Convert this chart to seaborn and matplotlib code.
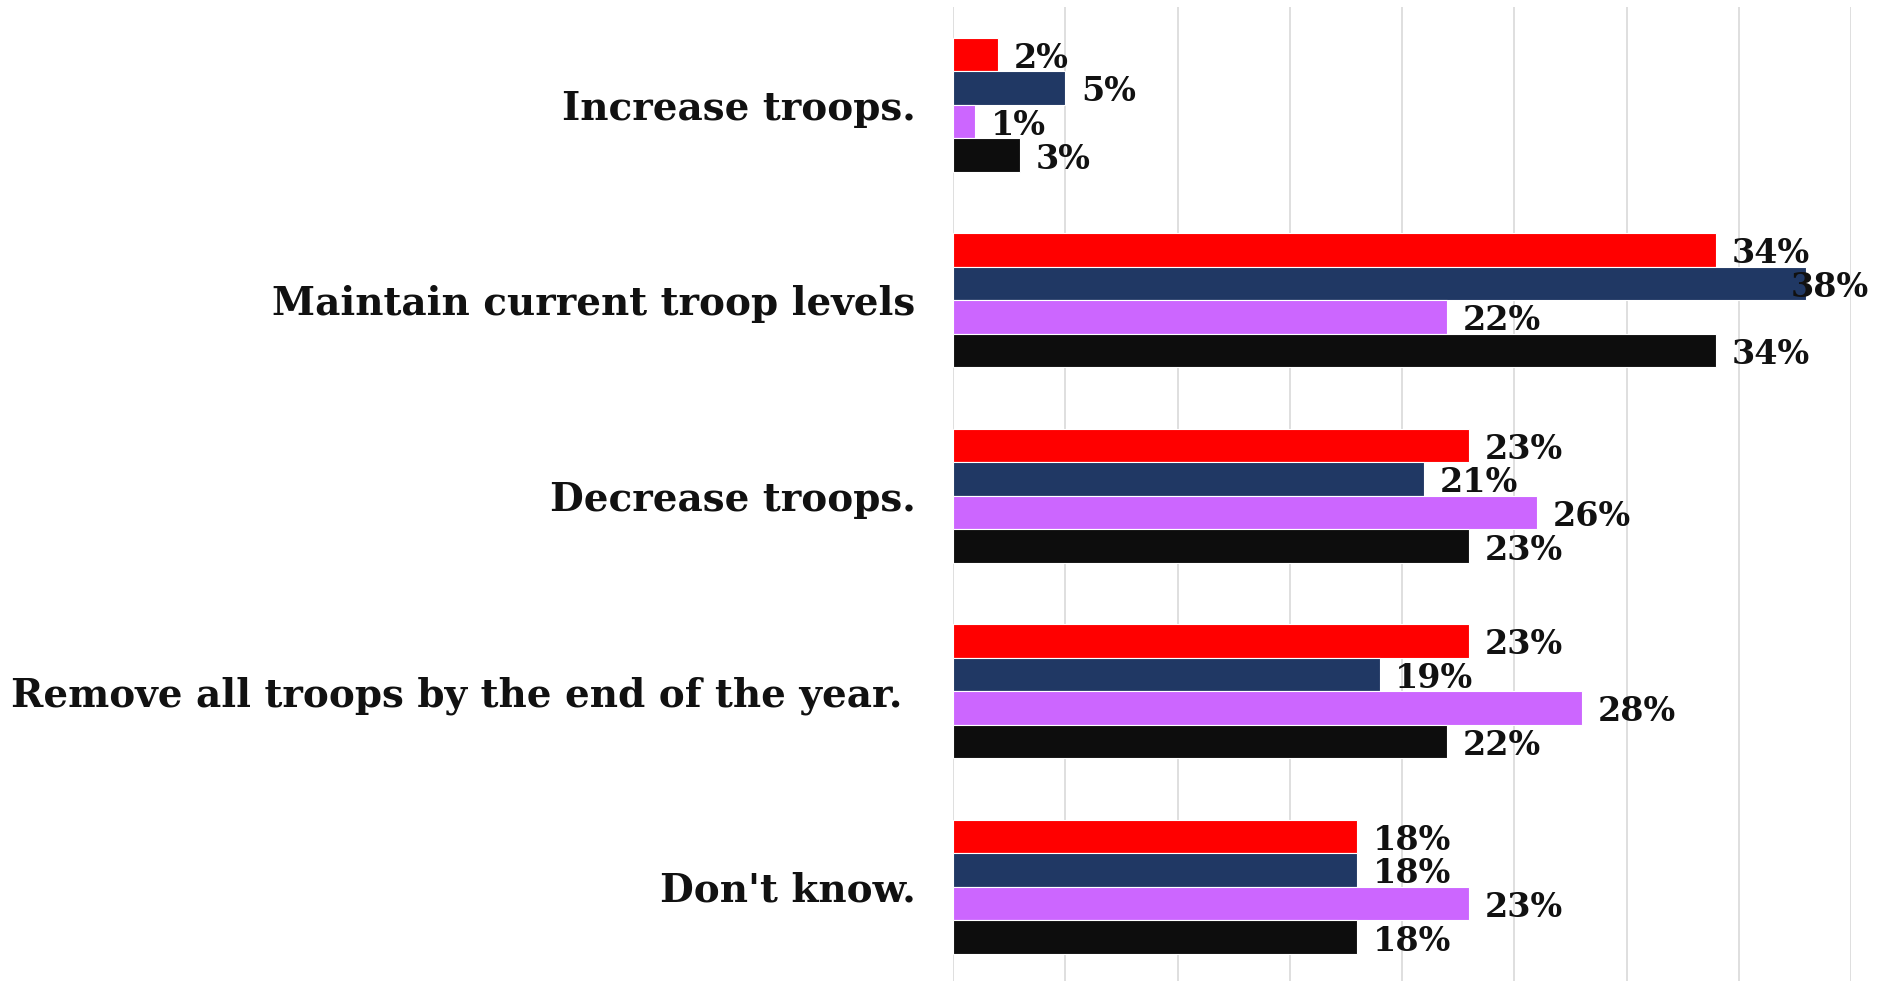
import numpy as np
import pandas as pd
import matplotlib
matplotlib.use('Agg')
import matplotlib.pyplot as plt
import seaborn as sns

categories = ['Increase troops.', 'Maintain current troop levels', 'Decrease troops.',
              'Remove all troops by the end of the year. ', "Don't know."]
groups = ['Group A', 'Group B', 'Group C', 'Group D']
group_a = [2, 34, 23, 23, 18]
group_b = [5, 38, 21, 19, 18]
group_c = [1, 22, 26, 28, 23]
group_d = [3, 34, 23, 22, 18]
colors = ['#FF0000', '#203864', '#CC66FF', '#0D0D0D']

# long format for seaborn
rows = []
for g, vals in zip(groups, [group_a, group_b, group_c, group_d]):
    for c, v in zip(categories, vals):
        rows.append({'category': c, 'group': g, 'value': v})
df = pd.DataFrame(rows)

sns.set_style('white')
plt.rcParams['font.family'] = ['DejaVu Serif']

fig = plt.figure(figsize=(18.8, 9.81), dpi=100)
ax = fig.add_axes([953 / 1880, 0, (1851 - 953) / 1880, 974 / 981])

sns.barplot(data=df, y='category', x='value', hue='group', order=categories,
            hue_order=groups, palette=colors, saturation=1, width=0.687, orient='h',
            edgecolor='white', linewidth=0.8, legend=False, ax=ax, zorder=3)

ax.set_xlim(0, 40)
ax.set_ylim(4.482, -0.5)
ax.set_xticks(np.arange(0, 41, 5))
ax.set_xticklabels([])
ax.tick_params(axis='x', length=0)
ax.tick_params(axis='y', length=0, pad=27)
ax.grid(axis='x', color='#D9D9D9', linewidth=1.2, zorder=0)
ax.set_axisbelow(True)
for s in ax.spines.values():
    s.set_visible(False)
ax.set_xlabel('')
ax.set_ylabel('')
for lbl in ax.get_yticklabels():
    lbl.set_fontsize(28)
    lbl.set_fontweight('bold')
    lbl.set_color('#111111')

# value labels, kept inside the chart area on the right
for cont in ax.containers:
    for bar in cont:
        w = bar.get_width()
        y = bar.get_y() + bar.get_height() / 2
        ax.text(min(w + 0.7, 37.3), y + 0.02, f'{w:.0f}%', ha='left', va='center',
                fontsize=24, fontweight='bold', color='#111111', zorder=5)

fig.savefig('out.png', dpi=100, facecolor='white')
